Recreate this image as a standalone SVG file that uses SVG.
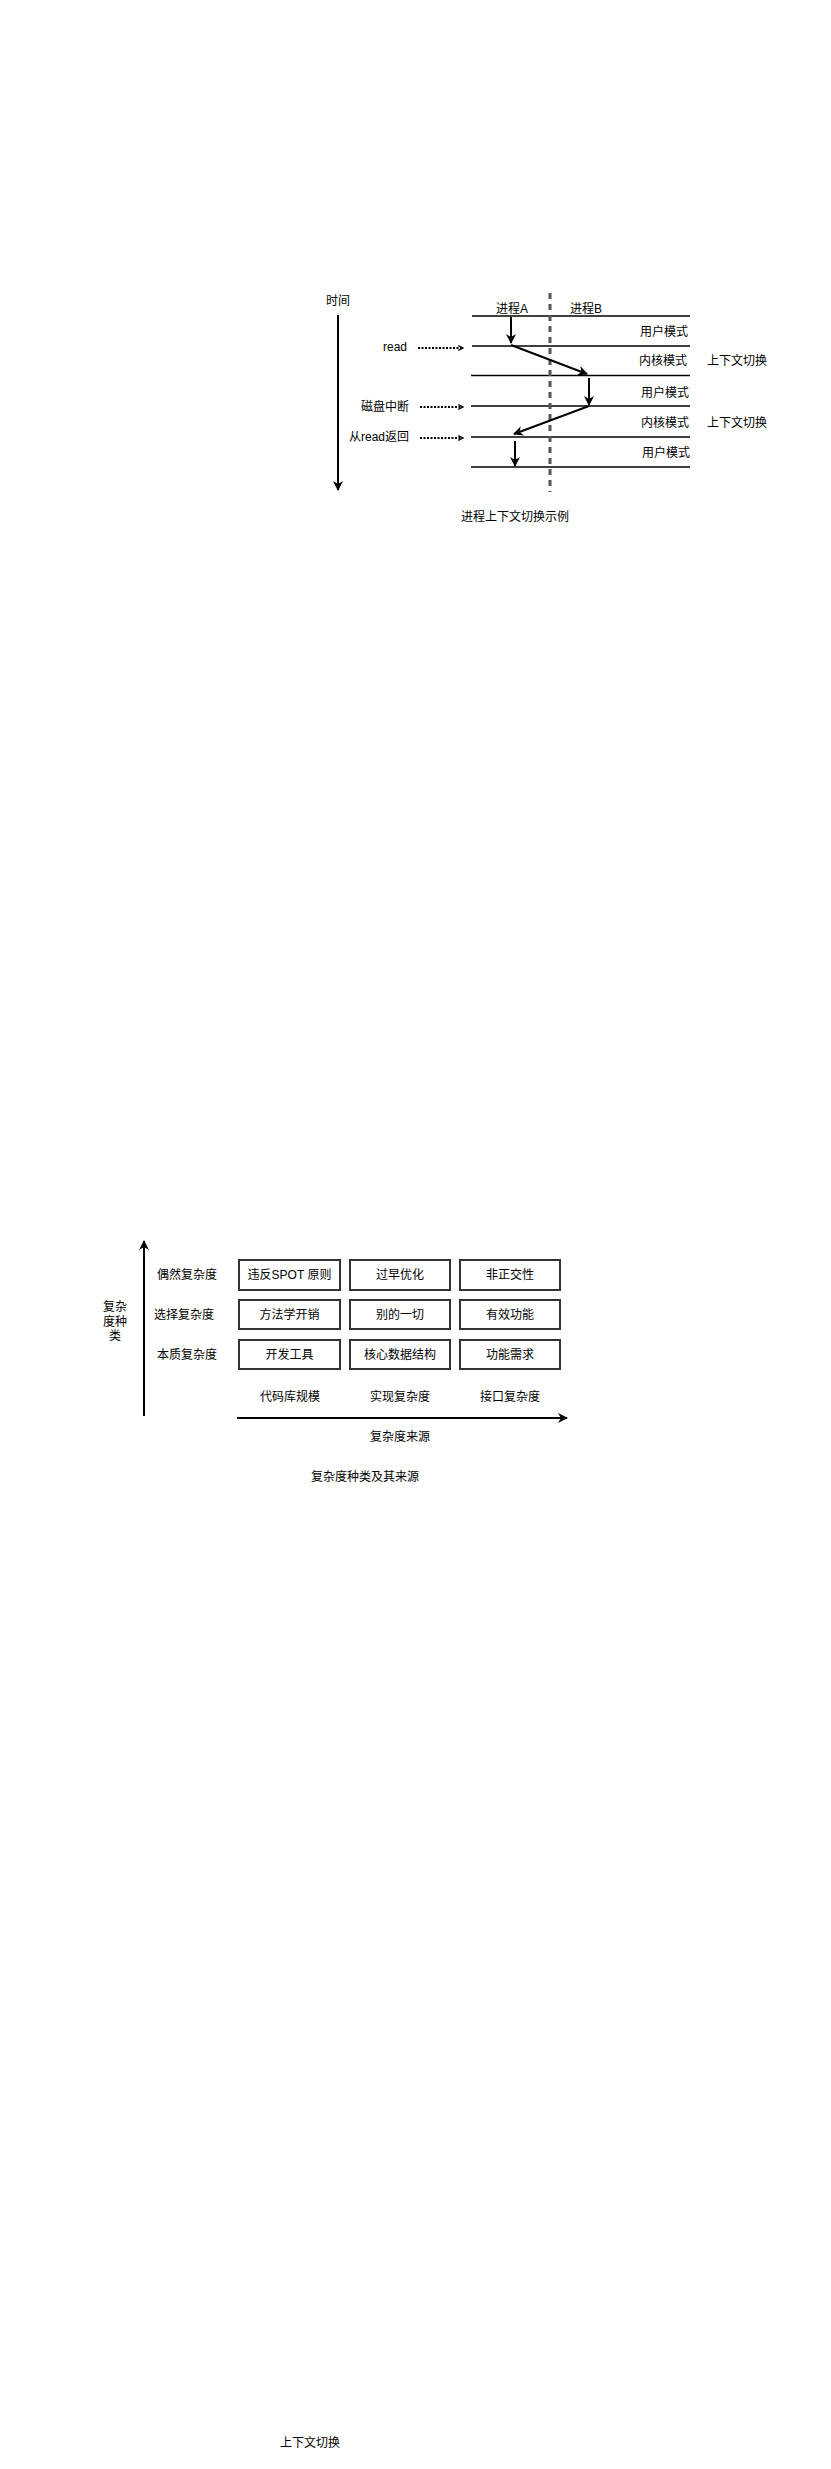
<svg xmlns="http://www.w3.org/2000/svg" width="831" height="2469" viewBox="0 0 831 2469">
<style>
text{font-family:"Liberation Sans","Noto Sans CJK SC",sans-serif;font-size:12px;fill:#000}
.l{stroke:#000;stroke-width:2;fill:none}
.m{text-anchor:middle}
.e{text-anchor:end}
.box{fill:#fff;stroke:#333;stroke-width:2}
.dot{stroke:#000;stroke-width:2;stroke-dasharray:2 1.5;fill:none}
</style>
<defs>
<marker id="ah" viewBox="0 0 10 10" refX="9" refY="5" markerWidth="5" markerHeight="5" orient="auto" markerUnits="strokeWidth">
<path d="M0,0 L10,5 L0,10 L3,5 Z" fill="#000"/>
</marker>
<marker id="ad" viewBox="0 0 10 10" refX="9" refY="5" markerWidth="6" markerHeight="6" orient="auto" markerUnits="userSpaceOnUse">
<path d="M1,1 L9,5 L1,9" fill="none" stroke="#000" stroke-width="2"/>
</marker>
</defs>
<rect width="831" height="2469" fill="#fff"/>
<g id="diagram1">
<g id="timeAxis">
<text x="338" y="305" class="m">时间</text>
<line x1="338" y1="315" x2="338" y2="490" class="l" marker-end="url(#ah)"/>
</g>
<g id="labels1">
<text x="512" y="313" class="m">进程A</text>
<text x="586" y="313" class="m">进程B</text>
<text x="688" y="336" class="e">用户模式</text>
<text x="687" y="365" class="e">内核模式</text>
<text x="737" y="365" class="m">上下文切换</text>
<text x="689" y="397" class="e">用户模式</text>
<text x="689" y="427" class="e">内核模式</text>
<text x="737" y="427" class="m">上下文切换</text>
<text x="690" y="457" class="e">用户模式</text>
<text x="407" y="351" class="e">read</text>
<text x="409" y="411" class="e">磁盘中断</text>
<text x="409" y="441" class="e">从read返回</text>
<text x="515" y="521" class="m">进程上下文切换示例</text>
</g>
<g id="levels">
<line x1="472" y1="316" x2="690" y2="316" stroke="#000" stroke-width="1.5"/>
<line x1="472" y1="346" x2="690" y2="346" stroke="#000" stroke-width="1.5"/>
<line x1="471" y1="375.5" x2="690" y2="375.5" stroke="#000" stroke-width="1.5"/>
<line x1="471" y1="406" x2="690" y2="406" stroke="#000" stroke-width="1.5"/>
<line x1="471" y1="437" x2="690" y2="437" stroke="#000" stroke-width="1.5"/>
<line x1="471" y1="467" x2="690" y2="467" stroke="#000" stroke-width="1.5"/>
<line x1="550" y1="293" x2="550" y2="492" stroke="#555" stroke-width="3" stroke-dasharray="6 5"/>
</g>
<g id="connectors1">
<line x1="511" y1="317" x2="511" y2="343" class="l" marker-end="url(#ah)"/>
<line x1="511" y1="345" x2="587" y2="374" class="l" marker-end="url(#ah)"/>
<line x1="589" y1="378" x2="589" y2="405" class="l" marker-end="url(#ah)"/>
<line x1="589" y1="406" x2="514" y2="434" class="l" marker-end="url(#ah)"/>
<line x1="515" y1="441" x2="515" y2="466" class="l" marker-end="url(#ah)"/>
<line x1="418" y1="348" x2="463" y2="348" class="dot" marker-end="url(#ad)"/>
<line x1="420" y1="407" x2="463" y2="407" class="dot" marker-end="url(#ad)"/>
<line x1="420" y1="438" x2="463" y2="438" class="dot" marker-end="url(#ad)"/>
</g>
</g>
<g id="diagram2">
<g id="axes2">
<line x1="144" y1="1416" x2="144" y2="1241" class="l" marker-end="url(#ah)"/>
<line x1="237" y1="1418" x2="567" y2="1418" class="l" marker-end="url(#ah)"/>
<text x="115" y="1311" class="m">复杂</text>
<text x="115" y="1326" class="m">度种</text>
<text x="115" y="1340" class="m">类</text>
<text x="400" y="1441" class="m">复杂度来源</text>
<text x="365" y="1481" class="m">复杂度种类及其来源</text>
</g>
<g id="rowLabels">
<text x="187" y="1279" class="m">偶然复杂度</text>
<text x="184" y="1319" class="m">选择复杂度</text>
<text x="187" y="1359" class="m">本质复杂度</text>
</g>
<g id="colLabels">
<text x="290" y="1401" class="m">代码库规模</text>
<text x="400" y="1401" class="m">实现复杂度</text>
<text x="510" y="1401" class="m">接口复杂度</text>
</g>
<g id="n11"><rect x="239" y="1260" width="101" height="30" class="box"/><text x="289.5" y="1279" class="m">违反SPOT 原则</text></g>
<g id="n12"><rect x="350" y="1260" width="100" height="30" class="box"/><text x="400" y="1279" class="m">过早优化</text></g>
<g id="n13"><rect x="460" y="1260" width="100" height="30" class="box"/><text x="510" y="1279" class="m">非正交性</text></g>
<g id="n21"><rect x="239" y="1300" width="101" height="29" class="box"/><text x="289.5" y="1319" class="m">方法学开销</text></g>
<g id="n22"><rect x="350" y="1300" width="100" height="29" class="box"/><text x="400" y="1319" class="m">别的一切</text></g>
<g id="n23"><rect x="460" y="1300" width="100" height="29" class="box"/><text x="510" y="1319" class="m">有效功能</text></g>
<g id="n31"><rect x="239" y="1340" width="101" height="29" class="box"/><text x="289.5" y="1359" class="m">开发工具</text></g>
<g id="n32"><rect x="350" y="1340" width="100" height="29" class="box"/><text x="400" y="1359" class="m">核心数据结构</text></g>
<g id="n33"><rect x="460" y="1340" width="100" height="29" class="box"/><text x="510" y="1359" class="m">功能需求</text></g>
</g>
<g id="footer">
<text x="310" y="2447" class="m">上下文切换</text>
</g>
</svg>
